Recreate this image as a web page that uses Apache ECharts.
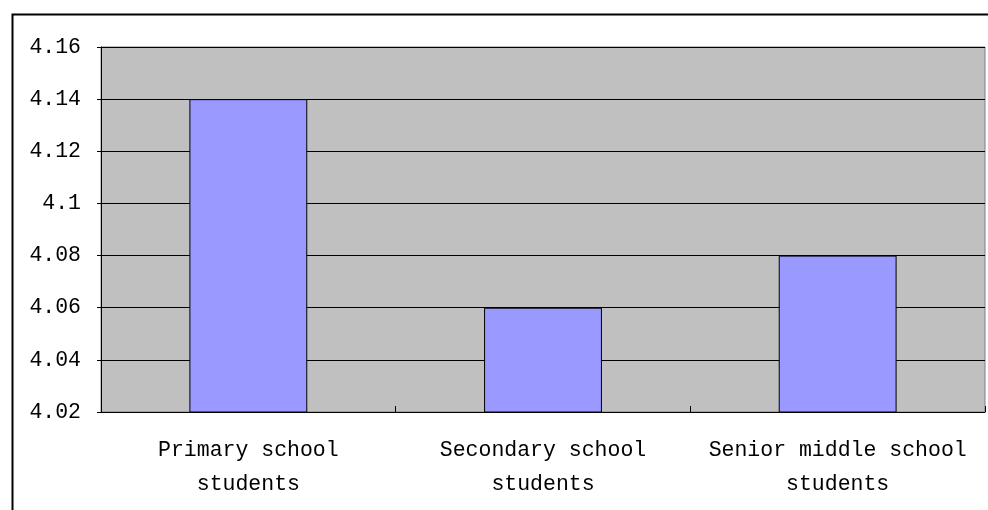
<!DOCTYPE html>
<html><head><meta charset="utf-8">
<script src="https://cdn.jsdelivr.net/npm/echarts@6/dist/echarts.min.js"></script>
<style>html,body{margin:0;padding:0;background:#fff}#c{width:988px;height:510px}</style>
</head><body><div id="c"></div>
<script>
const categories = ['Primary school\nstudents', 'Secondary school\nstudents', 'Senior middle school\nstudents'];
const values = [4.14, 4.06, 4.08];
const yMin = 4.02, yMax = 4.16, yStep = 0.02;

const chart = echarts.init(document.getElementById('c'));
const font = '"Liberation Mono", "DejaVu Sans Mono", monospace';
chart.setOption({
  animation: false,
  backgroundColor: '#ffffff',
  graphic: [{
    type: 'rect', left: 10, top: 12, z: -1,
    shape: { width: 1100, height: 700 },
    style: { fill: 'none', stroke: '#000', lineWidth: 2 }
  }],
  grid: {
    left: 101, top: 47, right: 3, bottom: 98,
    show: true, backgroundColor: '#C0C0C0', borderColor: '#808080', borderWidth: 1
  },
  xAxis: {
    type: 'category', data: categories,
    axisLine: { lineStyle: { color: '#000', width: 1 } },
    axisTick: { show: true, inside: true, length: 6, lineStyle: { color: '#000' }, alignWithLabel: false },
    axisLabel: { color: '#000', fontFamily: font, fontSize: 21.5, lineHeight: 34, margin: 21, interval: 0 },
    splitLine: { show: false }
  },
  yAxis: {
    type: 'value', min: yMin, max: yMax, interval: yStep,
    axisLine: { show: true, lineStyle: { color: '#000', width: 1 } },
    axisTick: { show: true, length: 4, lineStyle: { color: '#000' } },
    axisLabel: { color: '#000', fontFamily: font, fontSize: 21.5, margin: 20,
      formatter: v => String(Math.round(v * 100) / 100) },
    splitLine: { show: true, lineStyle: { color: '#000', width: 1 } }
  },
  series: [{
    type: 'bar', data: values, barWidth: '40%',
    itemStyle: { color: '#9999FF', borderColor: '#000', borderWidth: 1 }
  }]
});
</script></body></html>
